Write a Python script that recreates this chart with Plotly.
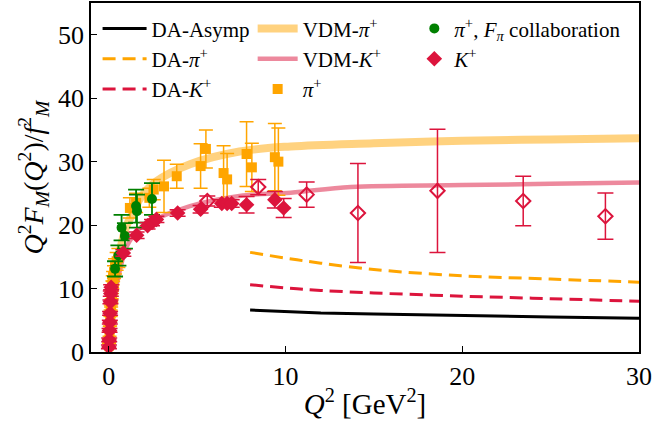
import plotly.graph_objects as go

# ---------------- data ----------------
vdm_pi_x = [0.0, 0.1, 0.2, 0.4, 0.64, 1.0, 1.2, 1.8, 2.7, 4.6, 7.4, 10.3, 15, 20, 25, 30]
vdm_pi_y = [0.0, 4.0, 7.2, 12.0, 16.0, 19.8, 21.0, 24.3, 26.9, 29.6, 31.6, 32.4, 32.9, 33.3, 33.5, 33.7]

vdm_k_x = [0.0, 0.1, 0.2, 0.4, 0.7, 1.0, 1.8, 2.7, 4.6, 7.4, 10.3, 13.7, 20, 25, 30]
vdm_k_y = [0.0, 3.3, 6.0, 9.8, 13.6, 16.5, 19.6, 21.0, 23.0, 24.6, 25.1, 26.0, 26.3, 26.5, 26.7]

da_x = [8, 10, 12, 15, 20, 25, 30]
da_asymp_y = [6.6, 6.35, 6.15, 6.0, 5.7, 5.5, 5.3]
da_pi_y = [15.7, 14.8, 14.0, 13.0, 12.0, 11.5, 11.0]
da_k_y = [10.6, 10.1, 9.7, 9.3, 8.8, 8.4, 8.0]

pi_x = [0.02, 0.03, 0.05, 0.06, 0.08, 0.09, 0.11, 0.12, 0.14, 0.15, 0.17, 0.19, 0.21,
        0.23, 0.25, 0.30, 0.36, 0.45, 0.55, 1.2, 1.55, 2.3, 2.55, 3.13, 3.85,
        5.2, 5.5, 6.5, 6.7, 7.8, 8.1, 9.4, 9.6]
pi_y = [1.0, 1.8, 2.8, 3.6, 4.5, 5.3, 6.1, 6.9, 7.6, 8.3, 9.0, 9.8, 10.6,
        11.3, 11.9, 12.6, 13.5, 14.3, 14.8, 22.7, 23.5, 24.3, 25.6, 26.1, 27.7,
        29.3, 32.0, 28.2, 27.2, 31.2, 29.1, 30.7, 30.0]
pi_err = [0.3, 0.3, 0.3, 0.4, 0.4, 0.4, 0.5, 0.5, 0.5, 0.5, 0.6, 0.6, 0.6,
          0.7, 0.8, 1.0, 1.2, 1.4, 1.5, 1.6, 1.5, 1.5, 1.6, 4.1, 1.9,
          3.5, 3.0, 4.3, 4.1, 5.1, 3.8, 5.3, 5.3]

fpi_x = [0.36, 0.55, 0.73, 0.92, 1.55, 1.6, 2.45]
fpi_y = [13.1, 15.2, 19.6, 18.3, 23.0, 22.2, 24.1]
fpi_err = [1.2, 1.6, 2.0, 2.0, 2.6, 2.6, 2.5]

k_x = [0.015, 0.03, 0.05, 0.065, 0.08, 0.10, 0.12, 0.14, 0.83, 1.58, 2.2, 2.45, 2.7,
       3.9, 5.2, 6.4, 6.7, 6.96, 7.8, 9.4, 9.9]
k_y = [0.8, 1.9, 3.4, 4.7, 6.1, 7.9, 9.2, 10.2, 15.6, 18.4, 19.9, 20.4, 20.9,
       21.9, 22.5, 23.4, 23.4, 23.4, 23.2, 24.0, 22.7]
k_err = [0.3, 0.3, 0.3, 0.3, 0.3, 0.3, 0.4, 0.4, 0.5, 0.5, 0.5, 0.5, 0.5,
         0.5, 0.6, 0.6, 0.6, 0.6, 1.3, 1.3, 1.5]

k_open_x = [5.58, 8.46, 11.2, 14.1, 18.6, 23.45, 28.1]
k_open_y = [23.8, 26.0, 24.8, 21.9, 25.4, 23.8, 21.4]
k_open_err = [0.8, 1.2, 2.0, 7.8, 9.7, 3.9, 3.65]

x_ticks = [0, 10, 20, 30]
y_ticks = [0, 10, 20, 30, 40, 50]

ORANGE = "#FFA500"
CRIMSON = "#DC143C"
GREEN = "#008000"
FONT = "Liberation Serif"

fig = go.Figure()

# bands
fig.add_trace(go.Scatter(x=vdm_pi_x, y=vdm_pi_y, mode="lines", name="VDM-<i>π</i><sup>+</sup>",
                         line=dict(color="rgba(255,165,0,0.5)", width=8, shape="spline"),
                         legend="legend2"))
fig.add_trace(go.Scatter(x=vdm_k_x, y=vdm_k_y, mode="lines", name="VDM-<i>K</i><sup>+</sup>",
                         line=dict(color="rgba(220,20,60,0.5)", width=4.5, shape="spline"),
                         legend="legend2"))

# DA lines
fig.add_trace(go.Scatter(x=da_x, y=da_asymp_y, mode="lines", name="DA-Asymp",
                         line=dict(color="black", width=3), legend="legend"))
fig.add_trace(go.Scatter(x=da_x, y=da_pi_y, mode="lines", name="DA-<i>π</i><sup>+</sup>",
                         line=dict(color=ORANGE, width=3, dash="13px,7px", shape="spline"),
                         legend="legend"))
fig.add_trace(go.Scatter(x=da_x, y=da_k_y, mode="lines", name="DA-<i>K</i><sup>+</sup>",
                         line=dict(color=CRIMSON, width=3, dash="13px,7px", shape="spline"),
                         legend="legend"))

# data points
fig.add_trace(go.Scatter(x=pi_x, y=pi_y, mode="markers", name="<i>π</i><sup>+</sup>",
                         marker=dict(symbol="square", size=10, color=ORANGE),
                         error_y=dict(type="data", array=pi_err, color=ORANGE, thickness=1.5, width=7),
                         legend="legend2"))
fig.add_trace(go.Scatter(x=fpi_x, y=fpi_y, mode="markers",
                         name="<i>π</i><sup>+</sup>, <i>F<sub>π</sub></i> collaboration",
                         marker=dict(symbol="circle", size=10, color=GREEN),
                         error_y=dict(type="data", array=fpi_err, color=GREEN, thickness=1.8, width=8),
                         legend="legend3"))
fig.add_trace(go.Scatter(x=k_x, y=k_y, mode="markers", name="<i>K</i><sup>+</sup>",
                         marker=dict(symbol="diamond", size=12, color=CRIMSON),
                         error_y=dict(type="data", array=k_err, color=CRIMSON, thickness=1.5, width=8),
                         legend="legend3"))
fig.add_trace(go.Scatter(x=k_open_x, y=k_open_y, mode="markers", showlegend=False,
                         marker=dict(symbol="diamond-open", size=11, color=CRIMSON,
                                     line=dict(width=2, color=CRIMSON)),
                         error_y=dict(type="data", array=k_open_err, color=CRIMSON, thickness=1.5, width=8)))

axis_common = dict(showgrid=False, zeroline=False, showline=True, linecolor="black", linewidth=1.5,
                   mirror=True, ticks="inside", ticklen=6, tickwidth=1.2, tickcolor="black",
                   tickfont=dict(family=FONT, size=26, color="black"))

leg_common = dict(xanchor="left", yanchor="top", bgcolor="rgba(0,0,0,0)",
                  font=dict(family=FONT, size=21), tracegroupgap=0)

fig.update_layout(
    width=655, height=430,
    margin=dict(l=91, r=16, t=1, b=78),
    paper_bgcolor="white", plot_bgcolor="white",
    font=dict(family=FONT, color="black"),
    xaxis=dict(range=[-1, 30], tickvals=x_ticks,
               title=dict(text="<i>Q</i><sup>2</sup> [GeV<sup>2</sup>]",
                          font=dict(family=FONT, size=29), standoff=4),
               **axis_common),
    yaxis=dict(range=[0, 55], tickvals=y_ticks,
               title=dict(text="<i>Q</i><sup>2</sup><i>F<sub>M</sub></i>(<i>Q</i><sup>2</sup>)/<i>f</i><sup>2</sup><sub><i>M</i></sub>",
                          font=dict(family=FONT, size=28), standoff=6),
               **axis_common),
    legend=dict(x=0.012, y=0.985, itemwidth=44, **leg_common),
    legend2=dict(x=0.295, y=0.985, itemwidth=40, **leg_common),
    legend3=dict(x=0.59, y=0.985, itemwidth=30, **leg_common),
)

fig.write_html("out.html")
